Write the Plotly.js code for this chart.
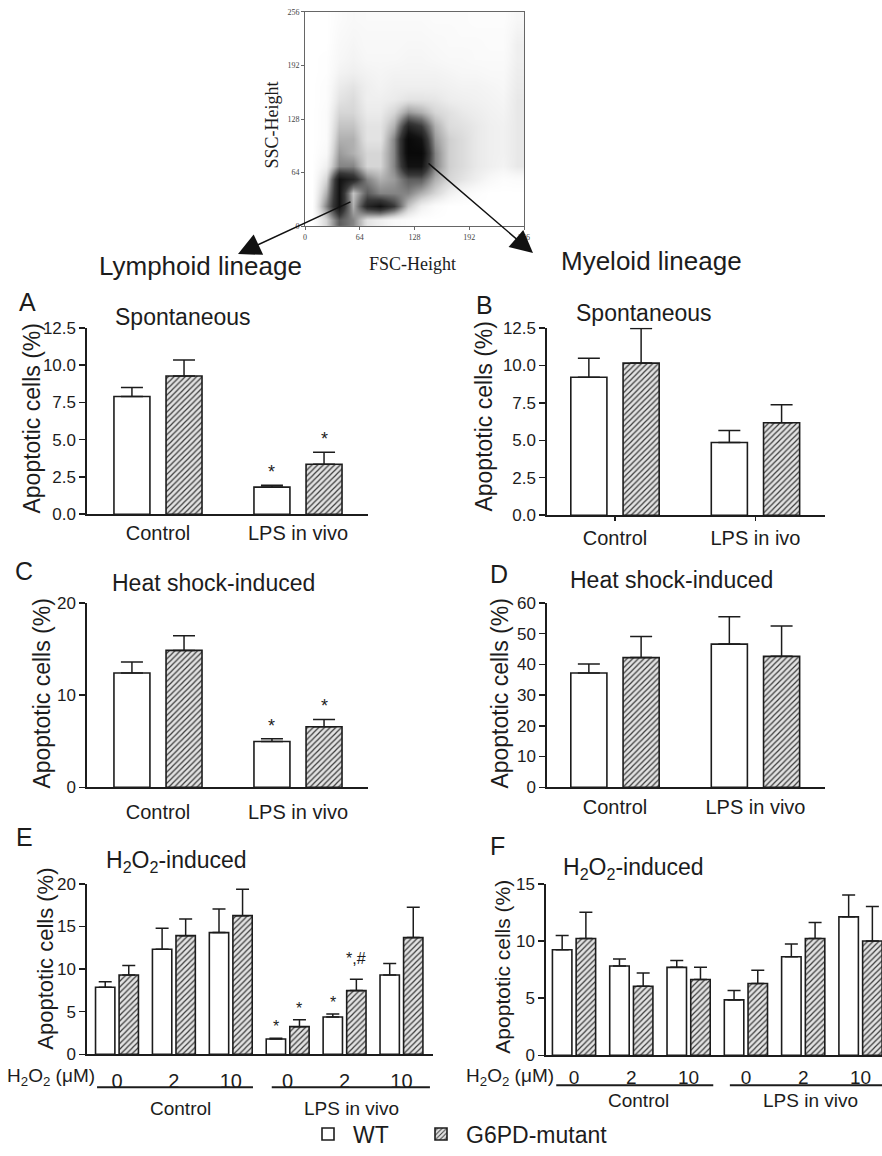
<!DOCTYPE html>
<html><head><meta charset="utf-8">
<script src="https://cdn.plot.ly/plotly-3.0.1.min.js"></script>
<style>html,body{margin:0;padding:0;background:#fff}</style>
</head><body><div id="chart" style="width:882px;height:1156px"></div>
<script>
// ---------------- data ----------------
// flow cytometry dot plot, read as a density grid (FSC bins x SSC bins, 0-10 darkness)
const fscBins = [8,24,40,56,72,88,104,120,136,152,168,184,200,216,232,248];
const sscBins = [8,24,40,56,72,88,104,120,136,152,168,184,200,216,232,248];
const sscDensity = [
  [0,2,5,4,1.5,1,0.5,0.3,0,0,0,0,0,0,0,0],
  [0,4,8,3,7,8,6,2.5,1,0.3,0,0,0,0,0,0],
  [0,3,8,2.5,5,4,4,4,3,2,1,0.5,0.2,0,0,0],
  [0,2,8,7,4,3,3.5,5,5,3,2,1.5,1,0.5,0.2,0.3],
  [0,1,4,4,2,2,4,8,8,4,2.2,1.8,1.3,1,0.8,1.3],
  [0,0.5,3.5,3,2,2,4,9,9,4,2.2,1.8,1.3,1,0.9,1.3],
  [0,0.3,3,3,1.5,1.5,4,9,8,3.5,2.2,1.8,1.3,1,0.9,1.3],
  [0,0.3,2.5,2.5,1.5,1.5,3,7,6,3,1.8,1.6,1.3,1,0.9,1.3],
  [0,0.3,2,2,1.2,1.2,2,3.5,3,2,1.6,1.3,1.1,0.9,0.8,1.3],
  [0,0.2,1.5,1.8,1,1,1.2,1.5,1.5,1.4,1.1,1,0.9,0.8,0.7,1.3],
  [0,0.2,1.2,1.5,1,0.8,1,1,1,1,0.9,0.8,0.8,0.7,0.6,1.2],
  [0,0.1,0.8,1,0.8,0.7,0.8,0.8,0.8,0.8,0.7,0.6,0.6,0.5,0.5,1.1],
  [0,0.1,0.6,0.8,0.6,0.6,0.6,0.7,0.7,0.6,0.5,0.5,0.4,0.4,0.4,1],
  [0,0,0.5,0.7,0.5,0.5,0.5,0.6,0.6,0.5,0.4,0.4,0.4,0.3,0.3,1],
  [0,0,0.4,0.6,0.5,0.5,0.5,0.5,0.5,0.4,0.4,0.3,0.3,0.3,0.3,0.8],
  [0,0,0.3,0.5,0.4,0.4,0.4,0.4,0.4,0.3,0.3,0.3,0.2,0.2,0.2,0.6]
];
const scatterTicks = [0,64,128,192,256];
const scatterTickText = ['0','64','128','192','256'];

const seriesNames = ['WT','G6PD-mutant'];
const groupsA = ['Control','LPS in vivo'];
const groupsB = ['Control','LPS in ivo'];
const groupsC = ['Control','LPS in vivo'];
const groupsD = ['Control','LPS in vivo'];
const doses = ['0','2','10','0','2','10'];
const doseGroupOf = [0,0,0,1,1,1];
const doseGroups = ['Control','LPS in vivo'];

const aWT = [7.9, 1.82],  aWTerr = [0.6, 0.12],  aMut = [9.27, 3.35], aMutErr = [1.07, 0.8];
const aWTsig = ['', '*'], aMutSig = ['', '*'];
const bWT = [9.2, 4.85],  bWTerr = [1.27, 0.8],  bMut = [10.15, 6.17], bMutErr = [2.3, 1.2];
const bWTsig = ['', ''],  bMutSig = ['', ''];
const cWT = [12.4, 4.97], cWTerr = [1.2, 0.3],   cMut = [14.85, 6.56], cMutErr = [1.6, 0.8];
const cWTsig = ['', '*'], cMutSig = ['', '*'];
const dWT = [37.2, 46.6], dWTerr = [2.9, 8.9],   dMut = [42.2, 42.6], dMutErr = [6.9, 9.9];
const dWTsig = ['', ''],  dMutSig = ['', ''];
const eWT    = [7.87, 12.33, 14.29, 1.8, 4.38, 9.32];
const eWTerr = [0.66, 2.47, 2.78, 0.08, 0.35, 1.33];
const eMut   = [9.32, 13.93, 16.28, 3.25, 7.48, 13.7];
const eMutErr= [1.1, 1.96, 3.09, 0.82, 1.33, 3.56];
const eWTsig = ['', '', '', '*', '*', ''];
const eMutSig= ['', '', '', '*', '*,#', ''];
const fWT    = [9.24, 7.82, 7.7, 4.85, 8.63, 12.12];
const fWTerr = [1.25, 0.61, 0.61, 0.82, 1.11, 1.92];
const fMut   = [10.23, 6.05, 6.63, 6.28, 10.23, 10.0];
const fMutErr= [2.3, 1.16, 1.07, 1.16, 1.4, 3.02];
const fWTsig = ['', '', '', '', '', ''];
const fMutSig= ['', '', '', '', '', ''];

// ---------------- styling / layout ----------------
const FONT = 'Liberation Sans, Arial, sans-serif';
const SERIF = 'Liberation Serif, Times New Roman, serif';
const INK = '#1c1c1c';
const W = 882, H = 1156;
const px = v => v / W;
const py = v => 1 - v / H;

const traces = [];
const annotations = [];
const shapes = [];
const legendStyle = x => ({orientation: 'h', x: px(x), y: py(1138), xanchor: 'left', yanchor: 'middle',
  font: {size: 23, color: INK}, bgcolor: 'rgba(0,0,0,0)', itemwidth: 40, itemclick: false, itemdoubleclick: false});
const layout = {
  width: W, height: H, margin: {l:0, r:0, t:0, b:0},
  paper_bgcolor: '#fff', plot_bgcolor: 'rgba(0,0,0,0)',
  font: {family: FONT, color: INK},
  barmode: 'overlay', showlegend: true,
  legend: legendStyle(303),
  legend2: legendStyle(416)
};

const geomAD = {w: 0.257, c: 0.186, cap: 11};
const geomEF = {w: 0.34, c: 0.207, cap: 6.5};

const panels = [
  {id:1, letter:'A', title:'Spontaneous', cats:groupsA, wt:aWT, wtErr:aWTerr, mut:aMut, mutErr:aMutErr, wtSig:aWTsig, mutSig:aMutSig,
   xd:[87,368], yd:[329,516], xr:[-0.507,1.5], yr:[0,12.5], dtick:2.5, fmt:'.1f', geom:geomAD, xticklen:0, xtickcol:'rgba(0,0,0,0)',
   letterPos:[27,303], titlePos:[183,318], ytPos:[32,420], ytSize:23, catSize:20, sigSize:18},
  {id:2, letter:'B', title:'Spontaneous', cats:groupsB, wt:bWT, wtErr:bWTerr, mut:bMut, mutErr:bMutErr, wtSig:bWTsig, mutSig:bMutSig,
   xd:[547,825], yd:[329,517], xr:[-0.484,1.495], yr:[0,12.5], dtick:2.5, fmt:'.1f', geom:geomAD, xticklen:4, xtickcol:INK,
   letterPos:[484,306], titlePos:[644,314], ytPos:[484,418], ytSize:23, catSize:20, sigSize:18},
  {id:3, letter:'C', title:'Heat shock-induced', cats:groupsC, wt:cWT, wtErr:cWTerr, mut:cMut, mutErr:cMutErr, wtSig:cWTsig, mutSig:cMutSig,
   xd:[87,368], yd:[605,790], xr:[-0.507,1.5], yr:[0,20], dtick:10, fmt:'d', geom:geomAD, xticklen:6, xtickcol:'rgba(0,0,0,0)',
   letterPos:[24,573], titlePos:[213,585], ytPos:[42,696], ytSize:23, catSize:20, sigSize:18},
  {id:4, letter:'D', title:'Heat shock-induced', cats:groupsD, wt:dWT, wtErr:dWTerr, mut:dMut, mutErr:dMutErr, wtSig:dWTsig, mutSig:dMutSig,
   xd:[547,825], yd:[605,790], xr:[-0.484,1.495], yr:[0,60], dtick:10, fmt:'d', geom:geomAD, xticklen:1, xtickcol:'rgba(0,0,0,0)',
   letterPos:[499,576], titlePos:[671,582], ytPos:[500,696], ytSize:23, catSize:20, sigSize:18},
  {id:5, letter:'E', title:'H<sub>2</sub>O<sub>2</sub>-induced', cats:doses, wt:eWT, wtErr:eWTerr, mut:eMut, mutErr:eMutErr, wtSig:eWTsig, mutSig:eMutSig,
   xd:[87,433], yd:[887,1058], xr:[-0.527,5.554], yr:[0,20], dtick:5, fmt:'d', geom:geomEF, xticklen:8, xtickcol:'rgba(0,0,0,0)',
   letterPos:[24,840], titlePos:[176,864], ytPos:[46,962], ytSize:22, catSize:20, sigSize:16,
   doseLab:[97,1081], lineY:1091, lines:[[-0.35,2.39],[2.72,5.5]], groupY:1112},
  {id:6, letter:'F', title:'H<sub>2</sub>O<sub>2</sub>-induced', cats:doses, wt:fWT, wtErr:fWTerr, mut:fMut, mutErr:fMutErr, wtSig:fWTsig, mutSig:fMutSig,
   xd:[546,882], yd:[887,1059], xr:[-0.489,5.375], yr:[0,15], dtick:5, fmt:'d', geom:geomEF, xticklen:4, xtickcol:'rgba(0,0,0,0)',
   letterPos:[498,849], titlePos:[633,872], ytPos:[503,970], ytSize:21, catSize:19, sigSize:16,
   doseLab:[556,1081], lineY:1089, lines:[[-0.31,2.43],[2.72,5.45]], groupY:1104}
];

function addPanel(p) {
  const sfx = p.id === 1 ? '' : String(p.id);
  const xa = 'x' + sfx, ya = 'y' + sfx;
  const xs = p.cats.map((_, i) => i);
  const half = p.geom.w / 2;
  const base = (vals, errs) => ({
    type: 'bar', x: xs, y: vals, xaxis: xa, yaxis: ya, width: p.geom.w, hoverinfo: 'skip',
    error_y: {type: 'data', symmetric: false, array: errs, arrayminus: errs.map(() => 0),
              color: INK, thickness: 1.5, width: p.geom.cap}
  });
  traces.push(Object.assign(base(p.wt, p.wtErr), {
    name: seriesNames[0], legend: 'legend', legendgroup: 'wt', showlegend: p.id === 1, offset: -p.geom.c - half,
    marker: {color: '#ffffff', line: {color: INK, width: 1.6}}
  }));
  traces.push(Object.assign(base(p.mut, p.mutErr), {
    name: seriesNames[1], legend: 'legend2', legendgroup: 'mut', showlegend: p.id === 1, offset: p.geom.c - half,
    marker: {color: '#e2e2e2', line: {color: INK, width: 1.6},
             pattern: {shape: '/', fgcolor: '#3a3a3a', bgcolor: '#e2e2e2', size: 4, solidity: 0.3}}
  }));
  [[p.wtSig, p.wt, p.wtErr, -p.geom.c], [p.mutSig, p.mut, p.mutErr, p.geom.c]].forEach(([sig, v, e, off]) => {
    sig.forEach((s, i) => {
      if (!s) return;
      annotations.push({xref: xa, yref: ya, x: i + off, y: v[i] + e[i], text: s, showarrow: false,
        yanchor: 'bottom', yshift: s.length > 1 ? 10 : 1, font: {size: p.sigSize, color: INK}});
    });
  });
  layout['xaxis' + sfx] = {
    domain: [px(p.xd[0]), px(p.xd[1])], range: p.xr, anchor: ya,
    showline: true, linecolor: INK, linewidth: 1.6, showgrid: false, zeroline: false,
    tickvals: xs, ticktext: p.cats, ticks: p.xticklen > 0 ? 'outside' : '', ticklen: Math.max(p.xticklen, 1),
    tickwidth: 1.5, tickcolor: p.xtickcol, tickfont: {size: p.catSize, color: INK}, fixedrange: true
  };
  layout['yaxis' + sfx] = {
    domain: [py(p.yd[1]), py(p.yd[0])], range: p.yr, anchor: xa,
    showline: true, linecolor: INK, linewidth: 1.6, showgrid: false, zeroline: false,
    tick0: 0, dtick: p.dtick, tickformat: p.fmt, ticks: 'outside', ticklen: 6, tickwidth: 1.5, tickcolor: INK,
    tickfont: {size: 17, color: INK}, fixedrange: true
  };
  annotations.push({xref: 'paper', yref: 'paper', x: px(p.letterPos[0]), y: py(p.letterPos[1]), text: p.letter,
    showarrow: false, xanchor: 'center', yanchor: 'middle', font: {size: 25, color: INK}});
  annotations.push({xref: 'paper', yref: 'paper', x: px(p.titlePos[0]), y: py(p.titlePos[1]), text: p.title,
    showarrow: false, xanchor: 'center', yanchor: 'middle', font: {size: 23, color: INK}});
  annotations.push({xref: 'paper', yref: 'paper', x: px(p.ytPos[0]), y: py(p.ytPos[1]), text: 'Apoptotic cells (%)',
    textangle: -90, showarrow: false, xanchor: 'center', yanchor: 'middle', font: {size: p.ytSize, color: INK}});
  if (p.doseLab) {
    annotations.push({xref: 'paper', yref: 'paper', x: px(p.doseLab[0]), y: py(p.doseLab[1]),
      text: 'H<sub>2</sub>O<sub>2</sub> (μM)', showarrow: false, xanchor: 'right', yanchor: 'middle',
      font: {size: 19, color: INK}});
    p.lines.forEach(([a, b]) => shapes.push({type: 'line', xref: xa, yref: 'paper', x0: a, x1: b,
      y0: py(p.lineY), y1: py(p.lineY), line: {color: INK, width: 2}}));
    doseGroups.forEach((g, gi) => {
      const idx = xs.filter(i => doseGroupOf[i] === gi);
      const mid = idx.reduce((s, i) => s + i, 0) / idx.length;
      annotations.push({xref: xa, yref: 'paper', x: mid, xshift: 7, y: py(p.groupY), text: g, showarrow: false,
        xanchor: 'center', yanchor: 'middle', font: {size: 19, color: INK}});
    });
  }
}
panels.forEach(addPanel);

// ---------------- flow cytometry dot plot ----------------
traces.push({
  type: 'heatmap', x: fscBins, y: sscBins, z: sscDensity, xaxis: 'x7', yaxis: 'y7',
  zmin: 0, zmax: 10, zsmooth: 'best', showscale: false, hoverinfo: 'skip', showlegend: false,
  colorscale: [[0,'#ffffff'],[0.06,'#f7f7f7'],[0.12,'#ebebeb'],[0.2,'#d6d6d6'],[0.3,'#b0b0b0'],[0.45,'#6e6e6e'],[0.6,'#383838'],[0.8,'#121212'],[1,'#000000']]
});
layout.xaxis7 = {domain: [px(305), px(524)], range: [0,256], anchor: 'y7', showline: true, mirror: true,
  linecolor: '#666', linewidth: 1, showgrid: false, zeroline: false, tickvals: scatterTicks, ticktext: scatterTickText,
  ticks: 'outside', ticklen: 3, tickcolor: '#666', tickfont: {family: SERIF, size: 8, color: '#444'}, fixedrange: true};
layout.yaxis7 = {domain: [py(227), py(12)], range: [0,256], anchor: 'x7', showline: true, mirror: true,
  linecolor: '#666', linewidth: 1, showgrid: false, zeroline: false, tickvals: scatterTicks, ticktext: scatterTickText,
  ticks: 'outside', ticklen: 3, tickcolor: '#666', tickfont: {family: SERIF, size: 8, color: '#444'}, fixedrange: true};
annotations.push({xref: 'paper', yref: 'paper', x: px(412), y: py(265), text: 'FSC-Height', showarrow: false,
  xanchor: 'center', yanchor: 'middle', font: {family: SERIF, size: 18, color: INK}});
annotations.push({xref: 'paper', yref: 'paper', x: px(272), y: py(126), text: 'SSC-Height', showarrow: false, textangle: -90,
  xanchor: 'center', yanchor: 'middle', font: {family: SERIF, size: 18, color: INK}});
annotations.push({xref: 'paper', yref: 'paper', x: px(238), y: py(255), ax: 114, ay: -53, axref: 'pixel', ayref: 'pixel',
  text: '', showarrow: true, arrowhead: 2, arrowsize: 3, arrowwidth: 1.5, arrowcolor: '#111'});
annotations.push({xref: 'paper', yref: 'paper', x: px(533), y: py(254), ax: -106, ay: -91, axref: 'pixel', ayref: 'pixel',
  text: '', showarrow: true, arrowhead: 2, arrowsize: 3, arrowwidth: 1.5, arrowcolor: '#111'});
annotations.push({xref: 'paper', yref: 'paper', x: px(200), y: py(267), text: 'Lymphoid lineage', showarrow: false,
  xanchor: 'center', yanchor: 'middle', font: {size: 26, color: INK}});
annotations.push({xref: 'paper', yref: 'paper', x: px(651), y: py(262), text: 'Myeloid lineage', showarrow: false,
  xanchor: 'center', yanchor: 'middle', font: {size: 26, color: INK}});

layout.annotations = annotations;
layout.shapes = shapes;
Plotly.newPlot('chart', traces, layout, {staticPlot: true, displayModeBar: false});
</script>
</body></html>
